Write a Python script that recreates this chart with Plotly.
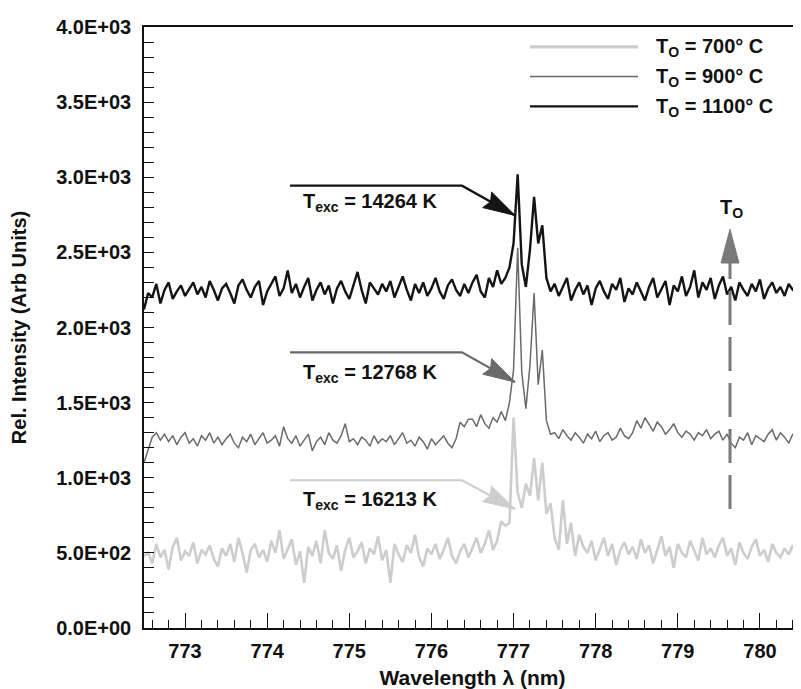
import numpy as np
import plotly.graph_objects as go

# ---------------- data ----------------
wl_start, wl_step = 772.5, 0.05
series_names = ["T<sub>O</sub> = 700° C", "T<sub>O</sub> = 900° C", "T<sub>O</sub> = 1100° C"]

int_700 = [
    480, 500, 430, 560, 470, 520, 390, 540, 600, 450, 510, 480, 570, 430, 520, 490, 550, 460, 410, 530,
    480, 560, 440, 600, 500, 370, 520, 560, 470, 520, 440, 580, 500, 650, 460, 530, 590, 420, 510, 300,
    540, 480, 580, 430, 650, 500, 460, 550, 380, 520, 600, 470, 510, 570, 430, 530, 490, 610, 450, 520,
    300, 560, 490, 440, 550, 500, 620, 470, 410, 530, 490, 560, 460, 520, 600, 480, 430, 510, 560, 470,
    530, 600, 500, 560, 650, 520, 580, 710, 680, 700, 1400, 900, 800, 960, 880, 1130, 850, 1100, 760, 830,
    600, 520, 850, 560, 700, 480, 620, 540, 500, 580, 450, 530, 600, 480, 560, 420, 520, 570, 490, 540,
    460, 590, 500, 550, 430, 520, 610, 480, 540, 400, 560, 500, 470, 580, 520, 450, 600, 490, 530, 470,
    550, 600, 480, 530, 420, 570, 500, 460, 540, 590, 480, 520, 440, 560, 500, 470, 530, 490, 550, 480, 510,
]

int_900 = [
    1100, 1180, 1270, 1300, 1250, 1290, 1240, 1280, 1220, 1270, 1300, 1230, 1260, 1210, 1280, 1250, 1300, 1230, 1270, 1220,
    1260, 1290, 1230, 1200, 1270, 1240, 1290, 1220, 1260, 1300, 1230, 1250, 1280, 1210, 1340, 1260, 1230, 1280, 1210, 1250,
    1290, 1180, 1240, 1270, 1220, 1300, 1250, 1230, 1280, 1360, 1240, 1260, 1220, 1270, 1250, 1210, 1280, 1230, 1260, 1240,
    1280, 1220, 1260, 1300, 1230, 1250, 1210, 1270, 1240, 1190, 1260, 1220, 1250, 1280, 1230, 1200, 1260, 1370, 1340, 1390,
    1390, 1340, 1420, 1360, 1330, 1400, 1370, 1440, 1380, 1500, 1720, 2530, 1700, 1460, 1750, 2230, 1620, 1850, 1380, 1290,
    1300, 1260, 1320, 1280, 1250, 1300, 1270, 1230, 1290, 1260, 1310, 1240, 1280, 1300, 1250, 1270, 1330, 1280, 1260, 1300,
    1380, 1330, 1400, 1350, 1310, 1370, 1340, 1290, 1320, 1360, 1300, 1270, 1310, 1290, 1250, 1300, 1280, 1320, 1260, 1290,
    1310, 1250, 1290, 1230, 1200, 1270, 1250, 1300, 1220, 1280, 1260, 1240, 1290, 1320, 1250, 1300, 1270, 1230, 1290, 1310, 1280,
]

int_1100 = [
    2120, 2230, 2200, 2290, 2160, 2250, 2300, 2190, 2240, 2280, 2210, 2260, 2300, 2220, 2270, 2200, 2310, 2250, 2180, 2260,
    2290, 2230, 2160, 2280, 2320, 2250, 2200, 2270, 2310, 2150, 2240, 2290, 2340, 2210, 2260, 2380, 2230, 2290, 2200, 2270,
    2330, 2180, 2250, 2300, 2220, 2280, 2160, 2260, 2310, 2240, 2190, 2280, 2370, 2250, 2160, 2300, 2260, 2220, 2290, 2240,
    2310, 2200, 2270, 2340, 2250, 2180, 2290, 2230, 2300, 2210, 2260, 2330, 2240, 2190, 2280, 2320, 2250, 2210, 2290, 2230,
    2300, 2350, 2240, 2200, 2330, 2270, 2380, 2290, 2330, 2400, 2560, 3020, 2420, 2270, 2520, 2870, 2560, 2680, 2330, 2240,
    2290, 2210, 2270, 2330, 2180, 2250, 2300, 2220, 2280, 2150, 2260, 2310, 2240, 2190, 2290, 2250, 2330, 2170, 2260, 2220,
    2300, 2240, 2180, 2270, 2330, 2200, 2260, 2310, 2150, 2280, 2240, 2340, 2210, 2270, 2380, 2200, 2300, 2250, 2330, 2190,
    2280, 2340, 2220, 2270, 2180, 2300, 2250, 2210, 2290, 2240, 2320, 2190, 2260, 2300, 2230, 2270, 2210, 2290, 2250, 2230, 2260,
]

y_tickvals = [0, 500, 1000, 1500, 2000, 2500, 3000, 3500, 4000]
y_ticktext = ["0.0E+00", "5.0E+02", "1.0E+03", "1.5E+03", "2.0E+03", "2.5E+03", "3.0E+03", "3.5E+03", "4.0E+03"]
x_tickvals = [773, 774, 775, 776, 777, 778, 779, 780]
annot_texts = ["T<sub>exc</sub> = 16213 K", "T<sub>exc</sub> = 12768 K", "T<sub>exc</sub> = 14264 K"]

wavelength = wl_start + wl_step * np.arange(len(int_1100))

# ---------------- styling ----------------
W, H = 801, 689
OFF = 8                      # page offset of the figure inside the browser window
L, R, T, B = 136, 8, 14, 69
XR = [772.5, 780.5]
YR = [0, 4000]
colors = ["#cdcdcd", "#6a6a6a", "#141414"]
widths = [2.6, 1.5, 2.4]
FONT = "Liberation Sans, Arial, Helvetica, sans-serif"


def px2x(px):
    return XR[0] + (px - OFF - L) / (W - L - R) * (XR[1] - XR[0])


def py2y(py):
    return YR[0] + (H - B - (py - OFF)) / (H - B - T) * (YR[1] - YR[0])


def px2paper(px):
    return (px - OFF - L) / (W - L - R)


def py2paper(py):
    return (H - B - (py - OFF)) / (H - B - T)


def path_px(pts, close=False):
    s = "M " + " L ".join(f"{px2x(x):.5f},{py2y(y):.3f}" for x, y in pts)
    return s + (" Z" if close else "")


def arrow_head(tail, tip, length, half_w, notch=4):
    tx, ty = tip
    dx, dy = tip[0] - tail[0], tip[1] - tail[1]
    n = (dx ** 2 + dy ** 2) ** 0.5
    ux, uy = dx / n, dy / n
    nx, ny = -uy, ux
    bx, by = tx - length * ux, ty - length * uy
    cx, cy = tx - (length - notch) * ux, ty - (length - notch) * uy
    return [(tx, ty), (bx + half_w * nx, by + half_w * ny), (cx, cy), (bx - half_w * nx, by - half_w * ny)]


fig = go.Figure()
for name, vals, c, w in zip(series_names, [int_700, int_900, int_1100], colors, widths):
    fig.add_trace(go.Scatter(x=wavelength, y=vals, mode="lines", name=name,
                             line=dict(color=c, width=w), showlegend=False))

shapes = []
annotations = []

# callout arrows (screen pixel geometry)
callouts = [
    (annot_texts[2], "#141414", 182, 212, 199),
    (annot_texts[1], "#6a6a6a", 350, 380, 371),
    (annot_texts[0], "#cdcdcd", 479, 508, 499),
]
for txt, c, yl, ytip, ytxt in callouts:
    elbow = (462, yl)
    tip = (515, ytip)
    shapes.append(dict(type="path", path=path_px([(290, yl), elbow, tip]),
                       line=dict(color=c, width=2.2), xref="x", yref="y"))
    shapes.append(dict(type="path", path=path_px(arrow_head(elbow, tip, 32, 9), close=True),
                       line=dict(color=c, width=1), fillcolor=c, xref="x", yref="y"))
    annotations.append(dict(x=px2paper(301), y=py2paper(ytxt), xref="paper", yref="paper",
                            text=txt, showarrow=False, xanchor="left", yanchor="middle",
                            font=dict(family=FONT, size=20, color="#111", weight="bold")))

# dashed T_O arrow
shapes.append(dict(type="line", x0=px2x(730), x1=px2x(730), y0=py2y(508), y1=py2y(258),
                   xref="x", yref="y", line=dict(color="#7a7a7a", width=3, dash="34px,12px")))
shapes.append(dict(type="path", path=path_px(arrow_head((730, 300), (730, 226), 34, 9, notch=0), close=True),
                   line=dict(color="#7a7a7a", width=1), fillcolor="#7a7a7a", xref="x", yref="y"))
annotations.append(dict(x=px2paper(731), y=py2paper(205), xref="paper", yref="paper",
                        text="T<sub>O</sub>", showarrow=False, xanchor="center", yanchor="middle",
                        font=dict(family=FONT, size=20, color="#111", weight="bold")))

# manual legend
for k, (name, c, w) in enumerate(zip(series_names, colors, widths)):
    yy = 42 + 30 * k
    shapes.append(dict(type="line", xref="paper", yref="paper", x0=px2paper(530), x1=px2paper(638),
                       y0=py2paper(yy), y1=py2paper(yy), line=dict(color=c, width=w + 0.6 if k == 0 else w)))
    annotations.append(dict(x=px2paper(654), y=py2paper(yy + 1), xref="paper", yref="paper",
                            text=name, showarrow=False, xanchor="left", yanchor="middle",
                            font=dict(family=FONT, size=20, color="#111", weight="bold")))

fig.update_layout(
    width=W, height=H,
    margin=dict(l=L, r=R, t=T, b=B, pad=0),
    paper_bgcolor="white", plot_bgcolor="white",
    font=dict(family=FONT, color="#111"),
    shapes=shapes, annotations=annotations,
    showlegend=False,
)
fig.update_xaxes(
    range=XR, tickvals=x_tickvals, ticks="inside", ticklen=15, tickwidth=1.3, tickcolor="#111",
    minor=dict(dtick=0.2, tick0=772.6, ticks="inside", ticklen=8, tickwidth=1.2, tickcolor="#111"),
    showline=True, linecolor="#111", linewidth=1.5, mirror=True, showgrid=False, zeroline=False,
    tickfont=dict(family=FONT, size=20, color="#111", weight="bold"), ticklabelstandoff=4,
    title=dict(text="Wavelength λ (nm)", standoff=10,
               font=dict(family=FONT, size=21, color="#111", weight="bold")),
)
fig.update_yaxes(
    range=YR, tickvals=y_tickvals, ticktext=y_ticktext, ticks="inside", ticklen=10, tickwidth=1.3,
    tickcolor="#111",
    minor=dict(dtick=100, ticks="inside", ticklen=10, tickwidth=1.2, tickcolor="#111"),
    showline=True, linecolor="#111", linewidth=1.5, showgrid=False, zeroline=False,
    tickfont=dict(family=FONT, size=20, color="#111", weight="bold"), ticklabelstandoff=7,
    title=dict(text="Rel. Intensity (Arb Units)", standoff=26,
               font=dict(family=FONT, size=20, color="#111", weight="bold")),
)

fig.write_html("out.html")
